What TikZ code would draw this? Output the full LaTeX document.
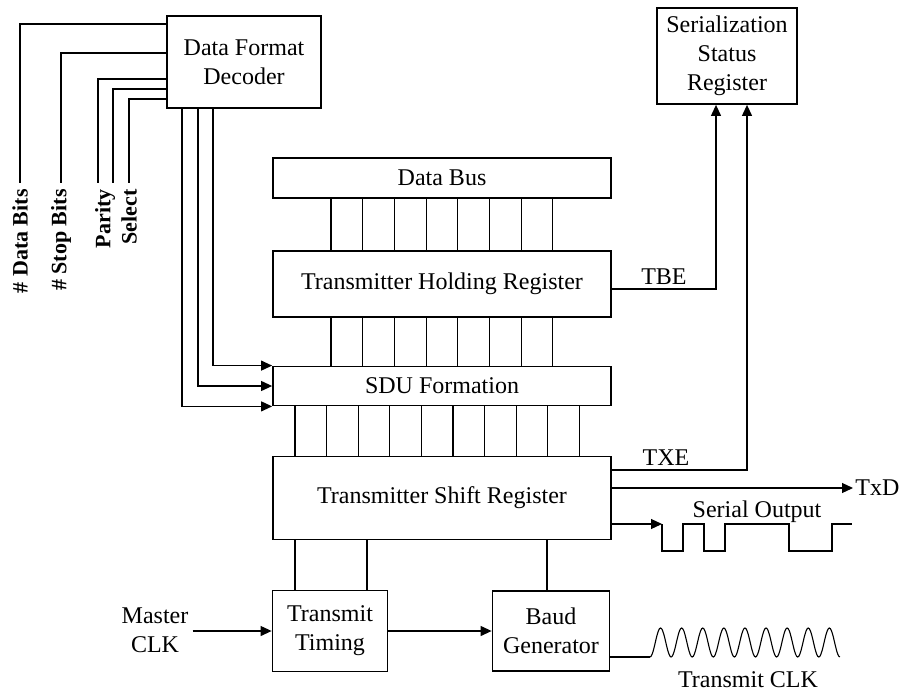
\documentclass[tikz,border=0pt]{standalone}
\usepackage{fontspec}
\setmainfont{Liberation Serif}
\usetikzlibrary{arrows.meta,calc}
\tikzset{
  blk/.style  = {draw, line width=0.9pt, inner sep=1pt, align=center,
                 font=\fontsize{12}{14.5}\selectfont},
  wire/.style = {line width=0.55pt},
  sig/.style  = {-{Triangle[length=5.5pt,width=5pt]}, wire},
  lbl/.style  = {font=\fontsize{12}{14.5}\selectfont, inner sep=2pt, align=center},
  vlbl/.style = {font=\bfseries\fontsize{11}{12}\selectfont, rotate=90,
                 anchor=east, inner sep=3pt},
}

\begin{document}
\begin{tikzpicture}[x=0.5pt, y=-0.5pt]
  \useasboundingbox (0,0) rectangle (904,690);
  % blocks
  \node[blk, minimum width=77pt, minimum height=46pt] (dec) at (244,62) {Data Format\\Decoder};
  \node[blk, minimum width=70pt, minimum height=48pt] (ssr) at (727,56) {Serialization\\Status\\Register};
  \node[blk, minimum width=169pt, minimum height=20pt] (bus) at (442,178) {Data Bus};
  \node[blk, minimum width=169pt, minimum height=33pt] (thr) at (442,284) {Transmitter Holding Register};
  \node[blk, minimum width=169pt, minimum height=19.5pt] (sdu) at (442,386) {SDU Formation};
  \node[blk, minimum width=169pt, minimum height=41.5pt] (tsr) at (442,498) {Transmitter Shift Register};
  \node[blk, minimum width=57.5pt, minimum height=40.5pt] (tt) at (330,631) {Transmit\\Timing};
  \node[blk, minimum width=58.5pt, minimum height=40pt] (baud) at (551,631) {Baud\\Generator};

  % format select inputs
  \node[vlbl] (ldata) at (20,183) {\# Data Bits};
  \node[vlbl] (lstop) at (61,183) {\# Stop Bits};
  \node[vlbl] (lpar) at (105,183) {Parity};
  \node[vlbl] (lsel) at (129,183) {Select};
  \draw[wire] (dec.west |- 0,24) -| (ldata.east);
  \draw[wire] (dec.west |- 0,53) -| (lstop.east);
  \draw[wire] (dec.west |- 0,79) -| ([xshift=-3.5pt]lpar.east);
  \draw[wire] (dec.west |- 0,89) -| ([xshift=4pt]lpar.east);
  \draw[wire] (dec.west |- 0,99) -| (lsel.east);

  % decoder to SDU
  \draw[sig] (213,0 |- dec.south) |- (sdu.north west);
  \draw[sig] (198,0 |- dec.south) |- (sdu.west);
  \draw[sig] (182,0 |- dec.south) |- (sdu.south west);

  % parallel lines
  \foreach \i [evaluate=\i as \bx using 331+31.7*\i] in {0,...,7} {
    \draw[wire] (\bx,0 |- bus.south) -- (\bx,0 |- thr.north);
    \draw[wire] (\bx,0 |- thr.south) -- (\bx,0 |- sdu.north);
  }
  \foreach \i [evaluate=\i as \bx using 295+31.6*\i] in {0,...,9}
    \draw[wire] (\bx,0 |- sdu.south) -- (\bx,0 |- tsr.north);

  % status flags
  \draw[sig] (thr.east |- 0,289) -| node[lbl, pos=0.25, above] {TBE} (716,0 |- ssr.south);
  \draw[sig] (tsr.east |- 0,470) -| node[lbl, pos=0.2, above] {TXE} (747,0 |- ssr.south);

  % serial out
  \node[lbl, anchor=west, inner sep=1pt] (txd) at (853,488) {TxD};
  \draw[sig] (tsr.east |- txd.west) -- (txd.west);
  \coordinate (so) at (662,524);
  \draw[sig] (tsr.east |- so) -- (so);
  \draw[wire] (so) -- ++(0,27) -- ++(21,0) -- ++(0,-27) -- ++(21,0) -- ++(0,27)
    -- ++(21,0) -- ++(0,-27) -- ++(64,0) -- ++(0,27) -- ++(43,0) -- ++(0,-27) -- ++(20,0);
  \node[lbl] (solbl) at (757,512) {Serial Output};

  % timing
  \draw[wire] (295,0 |- tsr.south) -- (295,0 |- tt.north);
  \draw[wire] (367,0 |- tsr.south) -- (367,0 |- tt.north);
  \draw[wire] (547,0 |- tsr.south) -- (547,0 |- baud.north);
  \node[lbl] (mclk) at (155,630) {Master\\CLK};
  \draw[sig] (mclk.east |- tt.west) -- (tt.west);
  \draw[sig] (tt) -- (baud);

  % transmit clock
  \coordinate (ck) at (650,657);
  \draw[wire] (baud.east |- ck) -- (ck);
  \draw[wire] plot[domain=0:9, samples=181, smooth] ({650+21.1*\x},{657-14.5*(1-cos(360*\x))});
  \node[lbl] (ckl) at (748,680) {Transmit CLK};
\end{tikzpicture}
\end{document}
